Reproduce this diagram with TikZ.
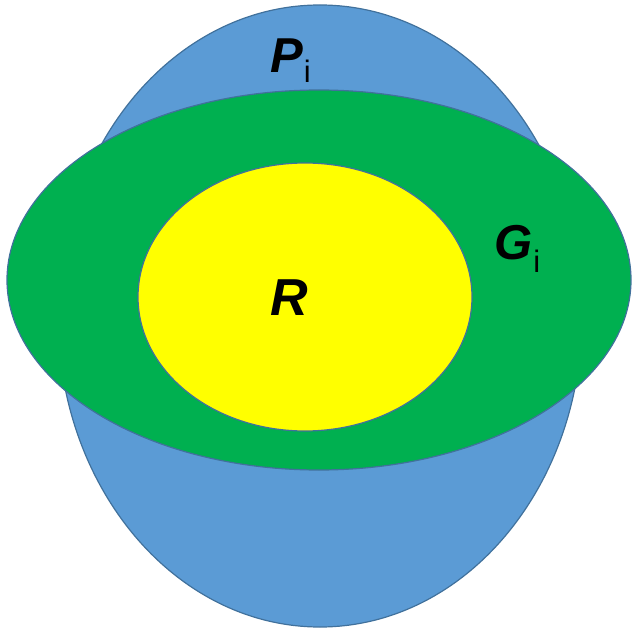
\documentclass[tikz,border=0pt]{standalone}
\usepackage{fontspec}
\setmainfont{Liberation Sans}
\definecolor{pblue}{HTML}{5B9BD5}
\definecolor{ggreen}{HTML}{00B050}
\definecolor{ryellow}{HTML}{FFFF00}
\definecolor{edge}{HTML}{41719C}
\newcommand{\subi}[1]{\raisebox{#1}{\fontsize{31}{31}\selectfont\mdseries\upshape\hspace{1pt}i}}
\begin{document}
\begin{tikzpicture}[x=1pt,y=-1pt,
  region/.style={draw=edge, line width=1.2pt},
  biglabel/.style={anchor=base west, inner sep=0pt, font=\fontsize{49}{49}\selectfont\bfseries\itshape}]
\useasboundingbox (0,0) rectangle (632,631);
\fill[pblue] (320,316) ellipse [x radius=262pt, y radius=311pt];
\draw[region] (320,316) ellipse [x radius=262pt, y radius=311pt];
\fill[ggreen] (319,280) ellipse [x radius=312pt, y radius=190pt];
\draw[region] (319,280) ellipse [x radius=312pt, y radius=190pt];
\fill[ryellow] (305,297) ellipse [x radius=167pt, y radius=134pt];
\draw[region] (305,297) ellipse [x radius=167pt, y radius=134pt];
\node[biglabel] (P) at (270,73) {P\subi{-10pt}};
\node[biglabel] (G) at (494,260) {G\subi{-13pt}};
\node[biglabel, font=\fontsize{52}{52}\selectfont\bfseries\itshape] (R) at (270,316) {R};
\end{tikzpicture}
\end{document}
